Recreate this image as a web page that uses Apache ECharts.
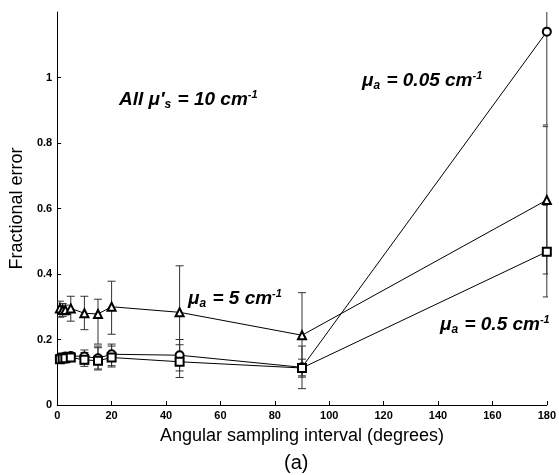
<!DOCTYPE html>
<html>
<head>
<meta charset="utf-8">
<script src="https://cdn.jsdelivr.net/npm/echarts@6/dist/echarts.min.js"></script>
<style>
  html, body { margin: 0; padding: 0; background: #fff; }
  #chart { width: 559px; height: 475px; }
</style>
</head>
<body>
<div id="chart"></div>
<script>
// sampling intervals (degrees)
var angles = [1, 2, 3, 5, 10, 15, 20, 45, 90, 180];

// mu_a = 0.05 cm-1 (circles)
var circleVals = [0.145, 0.145, 0.148, 0.150, 0.148, 0.143, 0.155, 0.152, 0.115, 1.14];
var circleLow  = [0.135, 0.135, 0.138, 0.138, 0.125, 0.110, 0.120, 0.104, 0.050, 0.855];
var circleHigh = [0.155, 0.155, 0.158, 0.160, 0.168, 0.175, 0.186, 0.200, 0.180, 1.42];

// mu_a = 5 cm-1 (triangles)
var triVals = [0.295, 0.290, 0.290, 0.295, 0.280, 0.278, 0.300, 0.283, 0.213, 0.626];
var triLow  = [0.268, 0.270, 0.275, 0.256, 0.230, 0.186, 0.216, 0.140, 0.089, 0.400];
var triHigh = [0.317, 0.310, 0.305, 0.332, 0.332, 0.323, 0.378, 0.425, 0.343, 0.850];

// mu_a = 0.5 cm-1 (squares)
var squareVals = [0.140, 0.142, 0.143, 0.145, 0.138, 0.135, 0.145, 0.132, 0.113, 0.468];
var squareLow  = [0.130, 0.130, 0.133, 0.133, 0.118, 0.107, 0.116, 0.084, 0.085, 0.330];
var squareHigh = [0.150, 0.152, 0.153, 0.158, 0.160, 0.180, 0.180, 0.184, 0.140, 0.610];

var xTicks = [0, 20, 40, 60, 80, 100, 120, 140, 160, 180];
var yTicks = [0, 0.2, 0.4, 0.6, 0.8, 1];

var font = 'Liberation Sans, Arial, sans-serif';

function pairs(vals) {
    return angles.map(function (a, i) { return [a, vals[i]]; });
}

function lineSeries(name, vals, symbol) {
    return {
        name: name,
        type: 'line',
        data: pairs(vals),
        symbol: symbol,
        symbolSize: 8,
        showAllSymbol: true,
        lineStyle: { color: '#000', width: 1 },
        itemStyle: { color: '#000', borderWidth: 1 },
        z: 3
    };
}

function errorSeries(lo, hi) {
    return {
        type: 'custom',
        clip: true,
        data: angles.map(function (a, i) { return [a, lo[i], hi[i]]; }),
        renderItem: function (params, api) {
            var p1 = api.coord([api.value(0), api.value(1)]);
            var p2 = api.coord([api.value(0), api.value(2)]);
            var w = 4;
            var st = { stroke: '#333', lineWidth: 1 };
            return {
                type: 'group',
                children: [
                    { type: 'line', shape: { x1: p1[0], y1: p1[1], x2: p2[0], y2: p2[1] }, style: st },
                    { type: 'line', shape: { x1: p1[0] - w, y1: p1[1], x2: p1[0] + w, y2: p1[1] }, style: st },
                    { type: 'line', shape: { x1: p2[0] - w, y1: p2[1], x2: p2[0] + w, y2: p2[1] }, style: st }
                ]
            };
        },
        z: 2
    };
}

var rich = {
    m: { fontSize: 19, fontWeight: 'bold', fontStyle: 'italic', fontFamily: font, color: '#000', lineHeight: 22 },
    sub: { fontSize: 12, fontWeight: 'bold', fontStyle: 'italic', fontFamily: font, color: '#000', lineHeight: 12, verticalAlign: 'bottom', padding: [0, 1, 0, 0] },
    sup: { fontSize: 11, fontWeight: 'bold', fontStyle: 'italic', fontFamily: font, color: '#000', lineHeight: 11, verticalAlign: 'top' }
};

function label(x, y, txt) {
    return { type: 'text', left: x, top: y, style: { text: txt, rich: rich } };
}

var chart = echarts.init(document.getElementById('chart'));
var option = {
    animation: false,
    grid: { left: 51, right: 11, top: 12, bottom: 70 },
    xAxis: {
        type: 'value',
        min: 0, max: 180, interval: 20,
        name: 'Angular sampling interval (degrees)',
        nameLocation: 'middle',
        nameGap: 22,
        nameTextStyle: { fontSize: 18, fontFamily: font, color: '#000' },
        axisLine: { lineStyle: { color: '#000', width: 1 } },
        axisTick: { inside: true, length: 4, lineStyle: { color: '#000' } },
        axisLabel: { fontSize: 11, fontWeight: 'bold', fontFamily: font, color: '#000', margin: 5 },
        splitLine: { show: false }
    },
    yAxis: {
        type: 'value',
        min: 0, max: 1.2, interval: 0.2,
        name: 'Fractional error',
        nameLocation: 'middle',
        nameGap: 27,
        nameTextStyle: { fontSize: 18, fontFamily: font, color: '#000' },
        axisLine: { show: true, lineStyle: { color: '#000', width: 1 } },
        axisTick: { inside: true, length: 4, lineStyle: { color: '#000' } },
        axisLabel: {
            fontSize: 11, fontWeight: 'bold', fontFamily: font, color: '#000', margin: 5,
            showMaxLabel: false,
            formatter: function (v) { return yTicks.indexOf(+v.toFixed(1)) >= 0 ? String(+v.toFixed(1)) : ''; }
        },
        splitLine: { show: false }
    },
    series: [
        errorSeries(circleLow, circleHigh),
        errorSeries(triLow, triHigh),
        errorSeries(squareLow, squareHigh),
        lineSeries('0.05', circleVals, 'emptyCircle'),
        lineSeries('5', triVals, 'emptyTriangle'),
        lineSeries('0.5', squareVals, 'emptyRect')
    ],
    graphic: [
        label(119, 89, '{m|All μ′}{sub|s}{m| = 10 cm}{sup|-1}'),
        label(362, 70, '{m|μ}{sub|a}{m| = 0.05 cm}{sup|-1}'),
        label(188, 288, '{m|μ}{sub|a}{m| = 5 cm}{sup|-1}'),
        label(440, 314, '{m|μ}{sub|a}{m| = 0.5 cm}{sup|-1}'),
        { type: 'text', left: 284, top: 453, style: { text: '(a)', fontSize: 20, fontFamily: font, fill: '#000' } }
    ]
};
chart.setOption(option);
</script>
</body>
</html>
